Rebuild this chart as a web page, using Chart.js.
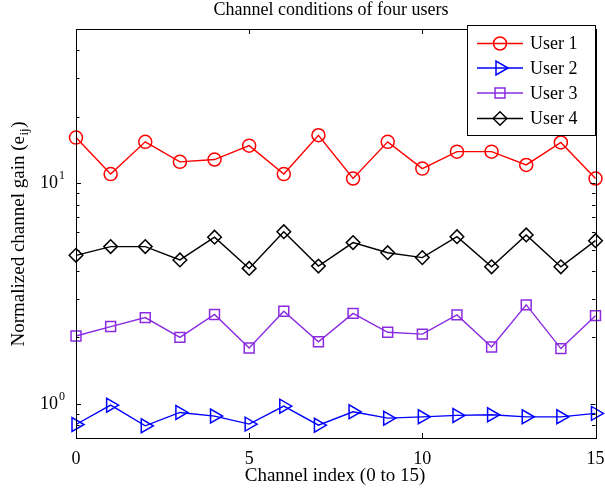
<!DOCTYPE html>
<html><head><meta charset="utf-8">
<script src="https://cdn.jsdelivr.net/npm/chart.js@4.4.0/dist/chart.umd.min.js"></script>
<style>html,body{margin:0;padding:0;background:#fff}#wrap{width:605px;height:489px}</style>
</head><body><div id="wrap"><canvas id="c" width="605" height="489"></canvas></div>
<script>
const channelIndex = [0,1,2,3,4,5,6,7,8,9,10,11,12,13,14,15];
const user1 = [16.1, 11.0, 15.4, 12.5, 12.8, 14.8, 11.0, 16.5, 10.5, 15.4, 11.65, 13.9, 13.9, 12.1, 15.3, 10.5];
const user2 = [0.806, 0.986, 0.795, 0.914, 0.88, 0.809, 0.976, 0.80, 0.92, 0.861, 0.873, 0.886, 0.892, 0.873, 0.873, 0.905];
const user3 = [2.03, 2.24, 2.46, 2.00, 2.54, 1.79, 2.63, 1.91, 2.57, 2.11, 2.07, 2.53, 1.81, 2.81, 1.78, 2.51];
const user4 = [4.71, 5.16, 5.16, 4.49, 5.69, 4.11, 6.03, 4.21, 5.38, 4.84, 4.60, 5.72, 4.18, 5.83, 4.18, 5.49];
const seriesNames = ['User 1', 'User 2', 'User 3', 'User 4'];
const xTicks = [0, 5, 10, 15];
const yMajorTicks = [1, 10];
const yMajorExponents = ['0', '1'];
const yMinorTicks = [0.7, 0.8, 0.9, 2, 3, 4, 5, 6, 7, 8, 9, 20, 30, 40, 50];
const titleText = 'Channel conditions of four users';
const xLabelText = 'Channel index (0 to 15)';

const FONT = "'Liberation Serif', 'Times New Roman', serif";
const styles = [
  {color: '#ff0000', point: 'circle', radius: 6.5, rot: 0},
  {color: '#0000ff', point: 'triangle', radius: 8, rot: 90},
  {color: '#8a2be2', point: 'rect', radius: 7, rot: 0},
  {color: '#000000', point: 'rectRot', radius: 6.8, rot: 0}
];
const allSeries = [user1, user2, user3, user4];

function drawMarker(ctx, style, x, y, r, rotDeg) {
  const rad = rotDeg * Math.PI / 180;
  ctx.beginPath();
  if (style === 'circle') {
    ctx.arc(x, y, r, 0, Math.PI * 2);
  } else if (style === 'triangle') {
    let a = rad;
    ctx.moveTo(x + Math.sin(a) * r, y - Math.cos(a) * r);
    a += 2 * Math.PI / 3;
    ctx.lineTo(x + Math.sin(a) * r, y - Math.cos(a) * r);
    a += 2 * Math.PI / 3;
    ctx.lineTo(x + Math.sin(a) * r, y - Math.cos(a) * r);
    ctx.closePath();
  } else if (style === 'rect') {
    const s = Math.SQRT1_2 * r;
    ctx.rect(x - s, y - s, 2 * s, 2 * s);
  } else if (style === 'rectRot') {
    ctx.moveTo(x - r, y); ctx.lineTo(x, y - r); ctx.lineTo(x + r, y); ctx.lineTo(x, y + r);
    ctx.closePath();
  }
  ctx.stroke();
}

const framePlugin = {
  id: 'frame',
  afterDatasetsDraw(chart) {
    const ctx = chart.ctx;
    const a = chart.chartArea;
    const xs = chart.scales.x, ys = chart.scales.y;
    ctx.save();
    ctx.strokeStyle = '#000';
    ctx.lineWidth = 1;
    ctx.strokeRect(Math.round(a.left) + 0.5, Math.round(a.top) + 0.5, Math.round(a.right - a.left), Math.round(a.bottom - a.top));
    ctx.beginPath();
    xTicks.forEach(v => {
      const px = Math.round(xs.getPixelForValue(v)) + 0.5;
      ctx.moveTo(px, a.bottom); ctx.lineTo(px, a.bottom - 5);
      ctx.moveTo(px, a.top); ctx.lineTo(px, a.top + 5);
    });
    yMajorTicks.forEach(v => {
      const py = Math.round(ys.getPixelForValue(v)) + 0.5;
      ctx.moveTo(a.left, py); ctx.lineTo(a.left + 5, py);
      ctx.moveTo(a.right, py); ctx.lineTo(a.right - 5, py);
    });
    yMinorTicks.forEach(v => {
      const py = Math.round(ys.getPixelForValue(v)) + 0.5;
      ctx.moveTo(a.left, py); ctx.lineTo(a.left + 3.5, py);
      ctx.moveTo(a.right, py); ctx.lineTo(a.right - 3.5, py);
    });
    ctx.stroke();

    // superscripts for y tick labels
    ctx.fillStyle = '#000';
    ctx.font = '12px ' + FONT;
    ctx.textAlign = 'left';
    ctx.textBaseline = 'alphabetic';
    yMajorTicks.forEach((v, i) => {
      const py = ys.getPixelForValue(v);
      ctx.fillText(yMajorExponents[i], 59, py - 4);
    });

    // title
    ctx.font = '18px ' + FONT;
    ctx.textAlign = 'center';
    ctx.fillText(titleText, 331, 15);
    // x label
    ctx.font = '19px ' + FONT;
    ctx.fillText(xLabelText, 335, 481);
    // y label with subscript
    ctx.save();
    ctx.translate(24, 234);
    ctx.rotate(-Math.PI / 2);
    ctx.textAlign = 'left';
    const p1 = 'Normalized channel gain (e', sub = 'ij', p2 = ')';
    ctx.font = '19px ' + FONT;
    const w1 = ctx.measureText(p1).width, w3 = ctx.measureText(p2).width;
    ctx.font = '13px ' + FONT;
    const w2 = ctx.measureText(sub).width;
    let x0 = -(w1 + w2 + w3 + 1) / 2;
    ctx.font = '19px ' + FONT;
    ctx.fillText(p1, x0, 0);
    ctx.font = '13px ' + FONT;
    ctx.fillText(sub, x0 + w1 + 0.5, 4);
    ctx.font = '19px ' + FONT;
    ctx.fillText(p2, x0 + w1 + w2 + 1, 0);
    ctx.restore();

    // legend
    const lx = 467, ly = 25, lw = 128, lh = 110;
    ctx.fillStyle = '#fff';
    ctx.fillRect(lx, ly, lw, lh);
    ctx.strokeStyle = '#000';
    ctx.lineWidth = 1;
    ctx.strokeRect(lx + 0.5, ly + 0.5, lw, lh);
    const rowY = [43.5, 68, 93, 118.5];
    seriesNames.forEach((name, i) => {
      const st = styles[i];
      const y = rowY[i];
      ctx.strokeStyle = st.color;
      ctx.lineWidth = 1.4;
      ctx.beginPath(); ctx.moveTo(477, y); ctx.lineTo(523, y); ctx.stroke();
      ctx.lineWidth = 1.5;
      drawMarker(ctx, st.point, 500, y, st.radius, st.rot);
      ctx.fillStyle = '#000';
      ctx.font = '18px ' + FONT;
      ctx.textAlign = 'left';
      ctx.textBaseline = 'middle';
      ctx.fillText(name, 530, y + 1);
    });
    ctx.restore();
  }
};

const datasets = allSeries.map((vals, i) => ({
  label: seriesNames[i],
  data: channelIndex.map((c, j) => ({x: c, y: vals[j]})),
  borderColor: styles[i].color,
  backgroundColor: 'rgba(0,0,0,0)',
  borderWidth: 1.4,
  pointStyle: styles[i].point,
  pointRadius: styles[i].radius,
  pointRotation: styles[i].rot,
  pointBorderColor: styles[i].color,
  pointBackgroundColor: 'rgba(0,0,0,0)',
  pointBorderWidth: 1.5,
  tension: 0,
  clip: false
}));

new Chart(document.getElementById('c'), {
  type: 'line',
  data: {datasets},
  options: {
    responsive: false,
    devicePixelRatio: 1,
    animation: false,
    layout: {padding: {top: 29, right: 9, left: 0, bottom: 0}},
    plugins: {legend: {display: false}, title: {display: false}, tooltip: {enabled: false}},
    scales: {
      x: {
        type: 'linear', min: 0, max: 15,
        grid: {display: false, drawTicks: false},
        border: {display: false},
        afterBuildTicks: s => { s.ticks = xTicks.map(v => ({value: v})); },
        afterFit: s => { s.height = 51; s.paddingLeft = 0; s.paddingRight = 0; },
        ticks: {color: '#000', font: {family: FONT, size: 18}, padding: 10, maxRotation: 0}
      },
      y: {
        type: 'logarithmic', min: 0.7, max: 50,
        grid: {display: false, drawTicks: false},
        border: {display: false},
        afterBuildTicks: s => { s.ticks = yMajorTicks.map(v => ({value: v})); },
        afterFit: s => { s.width = 76; s.paddingTop = 0; s.paddingBottom = 0; },
        ticks: {color: '#000', font: {family: FONT, size: 18}, padding: 18, callback: v => '10'}
      }
    }
  },
  plugins: [framePlugin]
});
</script></body></html>
